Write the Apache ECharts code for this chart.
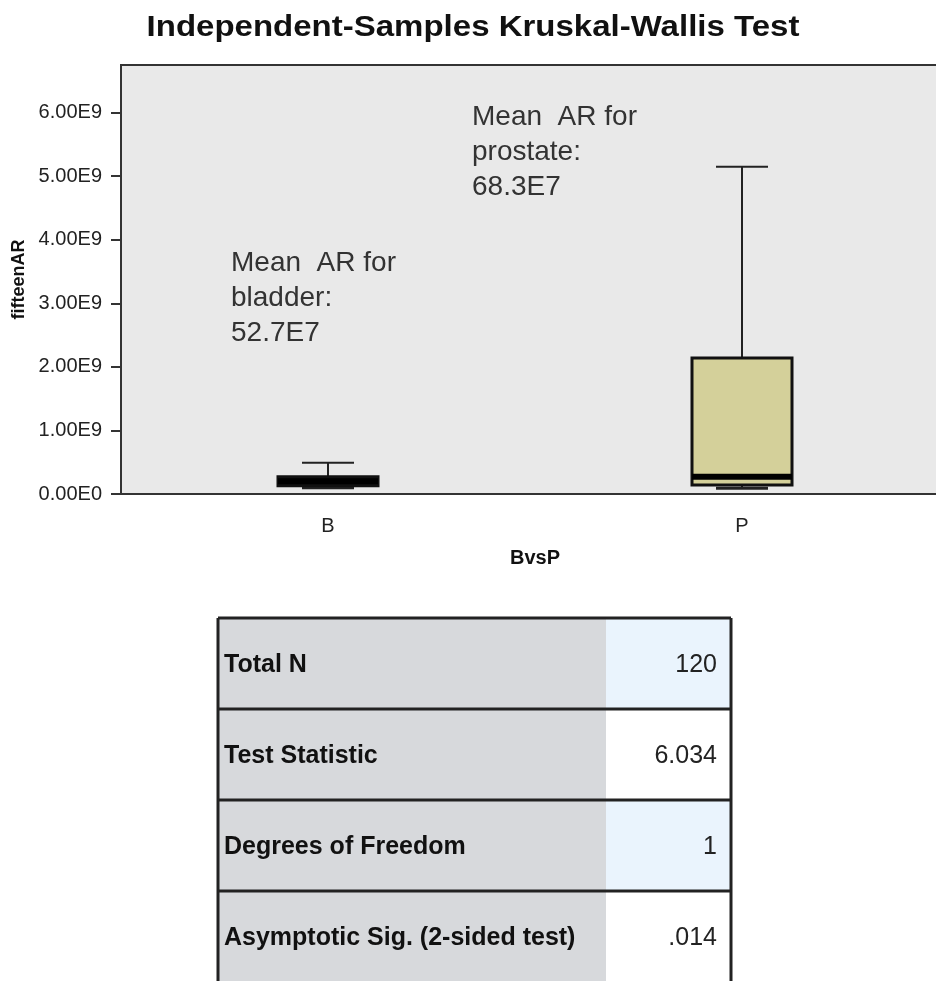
<!DOCTYPE html>
<html>
<head>
<meta charset="utf-8">
<script src="https://cdn.jsdelivr.net/npm/echarts@6/dist/echarts.min.js"></script>
<style>
  html, body { margin: 0; padding: 0; background: #fff; }
  #chart { width: 936px; height: 981px; }
</style>
</head>
<body>
<div id="chart"></div>
<script>
// box plot data (min, Q1, median, Q3, max) per group
const categories = ['B', 'P'];
const boxMin = [0.10e9, 0.09e9];
const boxQ1 = [0.13e9, 0.14e9];
const boxMedian = [0.20e9, 0.27e9];
const boxQ3 = [0.27e9, 2.14e9];
const boxMax = [0.49e9, 5.15e9];

const yTickValues = [0, 1e9, 2e9, 3e9, 4e9, 5e9, 6e9];
const yTickLabels = ['0.00E0', '1.00E9', '2.00E9', '3.00E9', '4.00E9', '5.00E9', '6.00E9'];

const noteBladder = ['Mean  AR for', 'bladder:', '52.7E7'];
const noteProstate = ['Mean  AR for', 'prostate:', '68.3E7'];

// summary table
const tableLabels = ['Total N', 'Test Statistic', 'Degrees of Freedom', 'Asymptotic Sig. (2-sided test)'];
const tableValues = ['120', '6.034', '1', '.014'];

const FONT = 'Arial, "Liberation Sans", sans-serif';
const boxFill = '#d4d09a';

const boxData = categories.map((c, i) => [i, boxMin[i], boxQ1[i], boxMedian[i], boxQ3[i], boxMax[i]]);

function renderBox(params, api) {
  const i = api.value(0);
  const pMin = api.coord([i, api.value(1)]);
  const pQ1 = api.coord([i, api.value(2)]);
  const pMed = api.coord([i, api.value(3)]);
  const pQ3 = api.coord([i, api.value(4)]);
  const pMax = api.coord([i, api.value(5)]);
  const x = pMin[0];
  const boxW = 100, capW = 52;
  const lineStyle = { stroke: '#222', lineWidth: 2 };
  // a very short box reads as solid black in the original
  const fill = (pQ1[1] - pQ3[1]) < 12 ? '#111' : boxFill;
  return {
    type: 'group',
    children: [
      { type: 'line', shape: { x1: x, y1: pQ3[1], x2: x, y2: pMax[1] }, style: lineStyle },
      { type: 'line', shape: { x1: x - capW / 2, y1: pMax[1], x2: x + capW / 2, y2: pMax[1] }, style: lineStyle },
      { type: 'line', shape: { x1: x, y1: pQ1[1], x2: x, y2: pMin[1] }, style: lineStyle },
      { type: 'line', shape: { x1: x - capW / 2, y1: pMin[1], x2: x + capW / 2, y2: pMin[1] }, style: { stroke: '#222', lineWidth: 3 } },
      { type: 'rect', shape: { x: x - boxW / 2, y: pQ3[1], width: boxW, height: pQ1[1] - pQ3[1] },
        style: { fill: fill, stroke: '#111', lineWidth: 3 } },
      { type: 'line', shape: { x1: x - boxW / 2, y1: pMed[1], x2: x + boxW / 2, y2: pMed[1] },
        style: { stroke: '#000', lineWidth: 6 } }
    ]
  };
}

const graphics = [];
// title
graphics.push({
  type: 'text', x: 473, y: 13, scaleX: 1.1,
  style: { text: 'Independent-Samples Kruskal-Wallis Test', font: 'bold 30px ' + FONT, fill: '#111', align: 'center' }
});
// annotations
graphics.push({
  type: 'text', x: 231, y: 246,
  style: { text: noteBladder.join('\n'), font: '28px ' + FONT, fill: '#333', lineHeight: 35 }
});
graphics.push({
  type: 'text', x: 472, y: 100,
  style: { text: noteProstate.join('\n'), font: '28px ' + FONT, fill: '#333', lineHeight: 35 }
});
// table
const tLeft = 218, tSplit = 606, tRight = 731, tTop = 618, rowH = 91;
const valueFill = ['#eaf4fd', '#ffffff', '#eaf4fd', '#ffffff'];
tableLabels.forEach((lab, r) => {
  const y = tTop + r * rowH;
  graphics.push({ type: 'rect', shape: { x: tLeft, y: y, width: tSplit - tLeft, height: rowH }, style: { fill: '#d7d9dc' } });
  graphics.push({ type: 'rect', shape: { x: tSplit, y: y, width: tRight - tSplit, height: rowH }, style: { fill: valueFill[r] } });
  graphics.push({ type: 'text', x: tLeft + 6, y: y + rowH / 2 + 2,
    style: { text: lab, font: 'bold 25px ' + FONT, fill: '#111', verticalAlign: 'middle' } });
  graphics.push({ type: 'text', x: tRight - 14, y: y + rowH / 2 + 2,
    style: { text: tableValues[r], font: '25px ' + FONT, fill: '#222', align: 'right', verticalAlign: 'middle' } });
  graphics.push({ type: 'line', shape: { x1: tLeft, y1: y, x2: tRight, y2: y }, style: { stroke: '#222', lineWidth: 3 } });
});
graphics.push({ type: 'line', shape: { x1: tLeft, y1: tTop, x2: tLeft, y2: 981 }, style: { stroke: '#222', lineWidth: 3 } });
graphics.push({ type: 'line', shape: { x1: tRight, y1: tTop, x2: tRight, y2: 981 }, style: { stroke: '#222', lineWidth: 3 } });

const chart = echarts.init(document.getElementById('chart'));
chart.setOption({
  animation: false,
  backgroundColor: '#fff',
  grid: {
    left: 121, top: 65, width: 828, bottom: 487,
    show: true, backgroundColor: '#e9e9e9', borderColor: '#333', borderWidth: 2,
    outerBoundsMode: 'none'
  },
  xAxis: {
    type: 'category',
    data: categories,
    name: 'BvsP',
    nameLocation: 'middle',
    nameGap: 54,
    nameTextStyle: { fontFamily: FONT, fontWeight: 'bold', fontSize: 20, color: '#111' },
    axisLine: { lineStyle: { color: '#333', width: 2 } },
    axisTick: { alignWithLabel: true, length: 12, lineStyle: { color: '#333', width: 2 } },
    axisLabel: { fontFamily: FONT, fontSize: 20, color: '#222', margin: 22 },
    splitLine: { show: false }
  },
  yAxis: {
    type: 'value',
    min: 0, max: 6.75e9, interval: 1e9,
    name: 'fifteenAR',
    nameLocation: 'middle',
    nameGap: 92,
    nameTextStyle: { fontFamily: FONT, fontWeight: 'bold', fontSize: 18, color: '#111' },
    axisLine: { show: true, lineStyle: { color: '#333', width: 2 } },
    axisTick: { show: true, length: 10, customValues: yTickValues, lineStyle: { color: '#333', width: 2 } },
    axisLabel: {
      fontFamily: FONT, fontSize: 20, color: '#222', margin: 19,
      customValues: yTickValues,
      formatter: v => yTickLabels[yTickValues.indexOf(v)] || ''
    },
    splitLine: { show: false }
  },
  series: [{
    type: 'custom',
    renderItem: renderBox,
    encode: { x: 0, y: [1, 2, 3, 4, 5] },
    data: boxData,
    clip: true
  }],
  graphic: graphics
});
</script>
</body>
</html>
